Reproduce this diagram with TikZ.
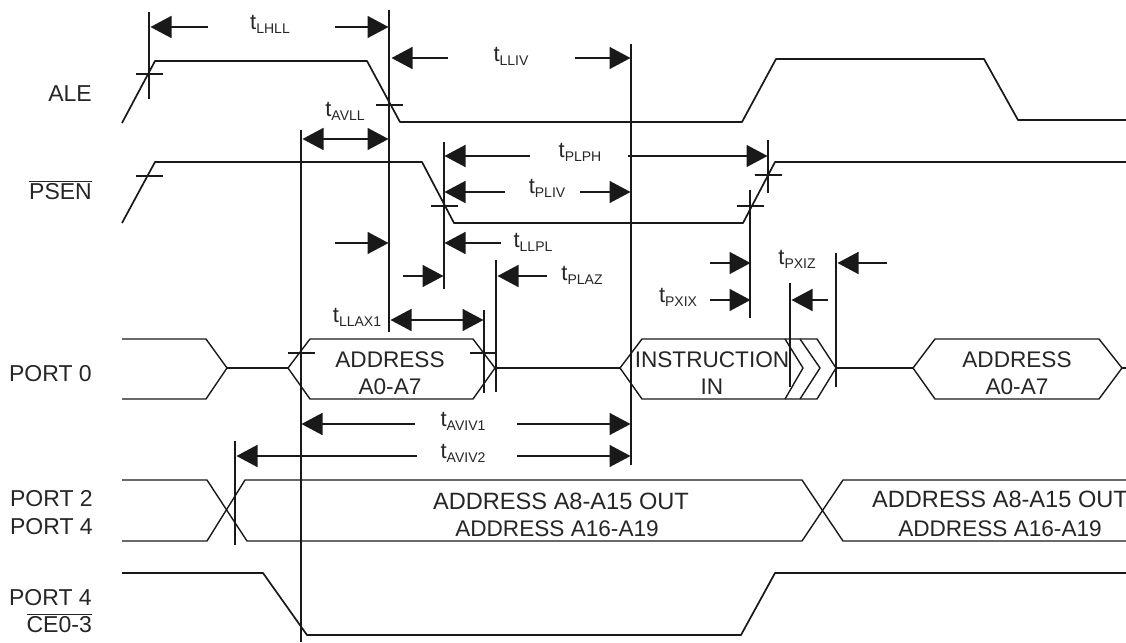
\documentclass[tikz,border=0pt]{standalone}
\usepackage{fontspec}
\usetikzlibrary{arrows.meta}
\setmainfont{Liberation Sans}
\newcommand{\tlab}[1]{{\fontsize{22}{24}\selectfont t}{\fontsize{14}{16}\selectfont\raisebox{-3.5pt}{#1}}}
\tikzset{
    sigline/.style={line width=1.7pt, line join=round, black!90},
    thinsig/.style={line width=1.4pt, line join=round, black!90},
    guide/.style={line width=2pt, black!90},
    tick/.style={line width=1.3pt, black!90},
    dimarrow/.style={line width=1.6pt, black!90, -{Triangle[length=21pt,width=22pt]}, shorten >=-0.5pt},
    sigtext/.style={font=\fontsize{22.6}{24}\selectfont, inner sep=0pt, anchor=base, yshift=-8pt, text=black!85},
    widetext/.style={sigtext, font=\fontsize{23.6}{24}\selectfont},
    rowlabel/.style={sigtext, anchor=base east, align=right, font=\fontsize{23}{24}\selectfont},
    timelabel/.style={inner sep=0pt, anchor=mid, text=black!85},
}
\begin{document}
\begin{tikzpicture}[x=1pt, y=-1pt]
        \clip (0,0) rectangle (1126,642);
        \fill[white] (0,0) rectangle (1126,642);
        % row names
        \node[rowlabel] (ale) at (92,93) {ALE};
        \node[rowlabel] (psen) at (92,191) {$\overline{\hbox{PSEN}}$};
        \node[rowlabel] (port0) at (92,373) {PORT 0};
        \node[rowlabel] (port2) at (93,498) {PORT 2};
        \node[rowlabel] (port4) at (93,526) {PORT 4};
        \node[rowlabel] (port4b) at (92,597) {PORT 4};
        \node[rowlabel] (ce) at (92,624) {$\overline{\hbox{CE0-3}}$};
        % signals
        \draw[sigline] (122,123) -- (155,61) -- (367,61) -- (400,122) -- (742,122)
            -- (776,59) -- (984,59) -- (1018,120) -- (1126,120);
        \draw[sigline] (122,223) -- (155,162) -- (422,162) -- (454,223) -- (743,223)
            -- (775,162) -- (1126,162);
        \draw[sigline] (122,573) -- (263,573) -- (307,635) -- (741,635)
            -- (775,573) -- (1126,573);
        % port 0 bus
        \draw[thinsig] (122,339) -- (206,339) -- (227,368) -- (206,399) -- (122,399);
        \draw[thinsig] (227,368) -- (288,368);
        \draw[thinsig] (288,368) -- (310,339) -- (473,339) -- (495,368)
            -- (473,399) -- (310,399) -- cycle;
        \draw[thinsig] (495,368) -- (620,368);
        \draw[thinsig] (620,368) -- (642,339) -- (817,339) -- (836,368)
            -- (817,399) -- (642,399) -- cycle;
        \draw[thinsig] (785,339) -- (803,368) -- (785,399);
        \draw[thinsig] (800,339) -- (820,368) -- (800,399);
        \draw[thinsig] (836,368) -- (913,368);
        \draw[thinsig] (913,368) -- (935,339) -- (1099,339) -- (1122,368)
            -- (1099,399) -- (935,399) -- cycle;
        \draw[thinsig] (1122,368) -- (1126,368);
        % port 2/4 bus
        \draw[thinsig] (122,480) -- (207,480) -- (247,541) -- (802,541) -- (843,480) -- (1126,480);
        \draw[thinsig] (122,541) -- (207,541) -- (245,480) -- (802,480) -- (843,541) -- (1126,541);
        % bus texts
        \node[sigtext] (addra) at (390,359) {ADDRESS};
        \node[sigtext] (addrb) at (390,386) {A0-A7};
        \node[sigtext] (instra) at (712,359) {INSTRUCTION};
        \node[sigtext] (instrb) at (712,386) {IN};
        \node[sigtext] (addrc) at (1017,359) {ADDRESS};
        \node[sigtext] (addrd) at (1017,386) {A0-A7};
        \node[widetext] (higha) at (561,501) {ADDRESS A8-A15 OUT};
        \node[sigtext] (highb) at (557,528) {ADDRESS A16-A19};
        \node[widetext] (highc) at (1000,499) {ADDRESS A8-A15 OUT};
        \node[sigtext] (highd) at (1000,528) {ADDRESS A16-A19};
        % guide lines
        \foreach \gname/\gx/\gtop/\gbot in {ga/149/12/99, gb/389/10/332, gc/301/130/642,
            gd/631/44/465, ge/444/142/289, gf/768/140/193, gg/750/190/318,
            gh/484/310/393, gi/496/260/392, gj/790/283/387, gk/836/253/387, gl/235/441/545} {
            \coordinate (\gname t) at (\gx,\gtop);
            \coordinate (\gname b) at (\gx,\gbot);
            \draw[guide] (\gname t) -- (\gname b);
        }
        % crossing marks
        \foreach \mname/\mx/\my/\mw in {ma/149/74/13.5, mb/389/105/13.5, mc/149/176/13.5,
            md/444/206/13.5, me/768/175/13.5, mf/750/206/13.5, mg/301/353/13.5, mh/483.5/353/13.5} {
            \coordinate (\mname l) at (\mx-\mw,\my);
            \coordinate (\mname r) at (\mx+\mw,\my);
            \draw[tick] (\mname l) -- (\mname r);
        }
        % timing labels
        \node[timelabel] (lhll) at (270,27) {\tlab{LHLL}};
        \node[timelabel] (lliv) at (511,59) {\tlab{LLIV}};
        \node[timelabel] (avll) at (345,114) {\tlab{AVLL}};
        \node[timelabel] (plph) at (580,155) {\tlab{PLPH}};
        \node[timelabel] (pliv) at (547,191) {\tlab{PLIV}};
        \node[timelabel] (llpl) at (533,245) {\tlab{LLPL}};
        \node[timelabel] (plaz) at (582,278) {\tlab{PLAZ}};
        \node[timelabel] (pxiz) at (797,262) {\tlab{PXIZ}};
        \node[timelabel] (pxix) at (678,300) {\tlab{PXIX}};
        \node[timelabel] (llax) at (357,320) {\tlab{LLAX1}};
        \node[timelabel] (aviva) at (463,424) {\tlab{AVIV1}};
        \node[timelabel] (avivb) at (463,456) {\tlab{AVIV2}};
        % dimension arrows
        \foreach \aname/\ax/\ay/\ahead in {aa/208/27/151, ab/335/27/388, ac/448/58/392, ad/575/58/630,
            ae/350/139/303, af/350/139/388, ag/530/156/445, ah/628/156/767, ai/505/192/445, aj/580/192/630,
            ak/335/243/388, al/501/243/445, am/403/276/443, an/547/276/498,
            ao/437/320/391, ap/437/320/483, aq/710/263/750, ar/710/300/750,
            as/887/263/838, at/828/300/792, au/415/424/302, av/517/424/630, aw/417/456/237, ax/517/456/630} {
            \coordinate (\aname tail) at (\ax,\ay);
            \coordinate (\aname head) at (\ahead,\ay);
            \draw[dimarrow] (\aname tail) -- (\aname head);
        }
\end{tikzpicture}
\end{document}
